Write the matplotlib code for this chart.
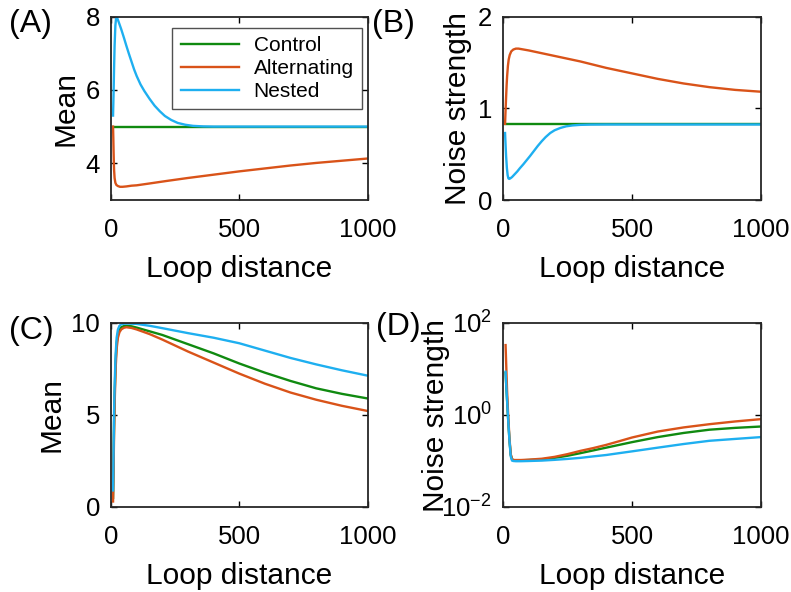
import matplotlib
matplotlib.use("Agg")
import matplotlib.pyplot as plt
from matplotlib.ticker import FixedLocator, FixedFormatter, NullLocator

plt.rcParams['font.family'] = ['Liberation Sans', 'DejaVu Sans']
plt.rcParams['mathtext.fontset'] = 'custom'
plt.rcParams['mathtext.rm'] = 'Liberation Sans'
plt.rcParams['mathtext.it'] = 'Liberation Sans'

series_names = ['Control', 'Alternating', 'Nested']
colors = {'Control': '#108a10', 'Alternating': '#d95319', 'Nested': '#1eaff0'}

# ---------------- Panel A: Mean ----------------
a_ctrl_x = [8, 1000]
a_ctrl_y = [5.0, 5.0]
a_alt_x = [8, 9, 10, 11, 12, 14, 17, 21, 27, 35, 45, 60, 80, 100, 150, 218, 300, 400, 500, 600, 700, 800, 900, 1000]
a_alt_y = [5.0, 4.7, 4.35, 4.05, 3.82, 3.6, 3.47, 3.41, 3.38, 3.36, 3.36, 3.37, 3.39, 3.4, 3.45, 3.52, 3.6, 3.69, 3.78, 3.86, 3.94, 4.01, 4.07, 4.13]
a_nest_x = [8, 10, 12, 14, 17, 20, 22, 30, 40, 50, 60, 70, 80, 90, 100, 115, 130, 150, 170, 190, 210, 235, 260, 290, 320, 360, 400, 1000]
a_nest_y = [5.3, 5.9, 6.6, 7.2, 7.75, 7.97, 8.0, 7.85, 7.65, 7.43, 7.2, 6.98, 6.77, 6.56, 6.38, 6.15, 5.97, 5.76, 5.57, 5.42, 5.29, 5.18, 5.1, 5.05, 5.02, 5.005, 5.0, 5.0]

# ---------------- Panel B: Noise strength ----------------
b_ctrl_x = [8, 1000]
b_ctrl_y = [0.823, 0.823]
b_alt_x = [8, 10, 12, 14, 16, 19, 22, 26, 32, 40, 50, 60, 80, 100, 150, 200, 250, 300, 400, 500, 600, 700, 800, 900, 1000]
b_alt_y = [0.83, 0.98, 1.12, 1.25, 1.35, 1.46, 1.53, 1.58, 1.62, 1.64, 1.65, 1.65, 1.64, 1.63, 1.6, 1.57, 1.54, 1.51, 1.44, 1.38, 1.32, 1.27, 1.23, 1.2, 1.18]
b_nest_x = [8, 10, 12, 15, 18, 21, 24, 28, 35, 45, 55, 65, 79, 92, 105, 120, 135, 150, 165, 183, 200, 222, 245, 270, 300, 340, 400, 1000]
b_nest_y = [0.73, 0.6, 0.48, 0.35, 0.27, 0.235, 0.23, 0.235, 0.25, 0.28, 0.31, 0.345, 0.39, 0.435, 0.48, 0.535, 0.59, 0.64, 0.685, 0.73, 0.76, 0.785, 0.803, 0.813, 0.819, 0.822, 0.823, 0.823]

# ---------------- Panel C: Mean ----------------
c_x = [8, 10, 12, 15, 18, 22, 27, 33, 40, 50, 60, 80, 100, 150, 200, 300, 400, 500, 600, 700, 800, 900, 1000]
c_ctrl_y = [0.5, 2.5, 4.6, 6.5, 7.9, 8.9, 9.4, 9.65, 9.77, 9.83, 9.85, 9.82, 9.75, 9.55, 9.35, 8.85, 8.35, 7.8, 7.3, 6.85, 6.45, 6.15, 5.9]
c_alt_y = [0.3, 2.0, 4.0, 6.0, 7.5, 8.6, 9.2, 9.5, 9.65, 9.74, 9.77, 9.73, 9.65, 9.4, 9.1, 8.45, 7.85, 7.25, 6.7, 6.22, 5.83, 5.5, 5.22]
c_nest_y = [0.9, 3.0, 5.2, 7.0, 8.3, 9.2, 9.65, 9.85, 9.93, 9.96, 9.97, 9.96, 9.95, 9.85, 9.72, 9.45, 9.2, 8.9, 8.5, 8.1, 7.75, 7.43, 7.14]

# ---------------- Panel D: Noise strength (log) ----------------
d_x = [10, 13, 16, 20, 25, 30, 35, 40, 50, 70, 100, 150, 200, 250, 300, 350, 400, 450, 500, 600, 700, 800, 900, 1000]
d_ctrl_y = [8.3, 3.98, 2.0, 0.794, 0.282, 0.135, 0.110, 0.105, 0.1035, 0.1035, 0.105, 0.108, 0.117, 0.130, 0.148, 0.170, 0.195, 0.224, 0.257, 0.331, 0.407, 0.479, 0.525, 0.562]
d_alt_y = [33.1, 10.0, 3.16, 1.0, 0.316, 0.141, 0.110, 0.105, 0.105, 0.105, 0.107, 0.112, 0.123, 0.141, 0.166, 0.191, 0.224, 0.269, 0.324, 0.437, 0.537, 0.631, 0.724, 0.813]
d_nest_y = [8.7, 3.98, 2.0, 0.794, 0.282, 0.126, 0.102, 0.100, 0.099, 0.099, 0.100, 0.102, 0.106, 0.111, 0.117, 0.126, 0.135, 0.148, 0.162, 0.195, 0.234, 0.275, 0.302, 0.331]

x_ticks = [0, 500, 1000]

W, H = 791, 592
fig = plt.figure(figsize=(W / 100, H / 100), dpi=100)

def box(l, t, r, b):
    return [l / W, (H - b) / H, (r - l) / W, (b - t) / H]

axA = fig.add_axes(box(111, 16.5, 367.5, 200))
axB = fig.add_axes(box(503, 16.5, 761, 200))
axC = fig.add_axes(box(111, 323, 367.5, 507))
axD = fig.add_axes(box(503, 323, 761, 507))

lw = 1.7
tick_fs = 18.5
label_fs = 21.5

def style(ax):
    ax.set_xlim(0, 1000)
    ax.xaxis.set_major_locator(FixedLocator(x_ticks))
    ax.tick_params(direction='in', top=True, right=True, length=4, width=1,
                   labelsize=tick_fs)
    ax.tick_params(axis='x', pad=13)
    ax.tick_params(axis='y', pad=8)
    ax.minorticks_off()
    for s in ax.spines.values():
        s.set_linewidth(1.3)
        s.set_color('#262626')
    ax.set_xlabel('Loop distance', fontsize=label_fs, labelpad=9)

# A
axA.plot(a_ctrl_x, a_ctrl_y, color=colors['Control'], lw=lw, label='Control')
axA.plot(a_alt_x, a_alt_y, color=colors['Alternating'], lw=lw, label='Alternating')
axA.plot(a_nest_x, a_nest_y, color=colors['Nested'], lw=lw, label='Nested')
style(axA)
axA.set_ylim(3, 8)
axA.set_yticks([4, 6, 8])
axA.set_ylabel('Mean', fontsize=label_fs, labelpad=4)
leg = axA.legend(loc='upper right', bbox_to_anchor=(0.979, 0.937), fontsize=15,
                 frameon=True, fancybox=False, edgecolor='#262626', handlelength=2.8,
                 handletextpad=0.7, labelspacing=0.18, borderpad=0.4, borderaxespad=0)
leg.get_frame().set_linewidth(1.0)

# B
axB.plot(b_ctrl_x, b_ctrl_y, color=colors['Control'], lw=lw)
axB.plot(b_alt_x, b_alt_y, color=colors['Alternating'], lw=lw)
axB.plot(b_nest_x, b_nest_y, color=colors['Nested'], lw=lw)
style(axB)
axB.set_ylim(0, 2)
axB.set_yticks([0, 1, 2])
axB.set_ylabel('Noise strength', fontsize=label_fs, labelpad=4)

# C
axC.plot(c_x, c_ctrl_y, color=colors['Control'], lw=lw)
axC.plot(c_x, c_alt_y, color=colors['Alternating'], lw=lw)
axC.plot(c_x, c_nest_y, color=colors['Nested'], lw=lw)
style(axC)
axC.set_ylim(0, 10)
axC.set_yticks([0, 5, 10])
axC.set_ylabel('Mean', fontsize=label_fs, labelpad=4)

# D
axD.plot(d_x, d_ctrl_y, color=colors['Control'], lw=lw)
axD.plot(d_x, d_alt_y, color=colors['Alternating'], lw=lw)
axD.plot(d_x, d_nest_y, color=colors['Nested'], lw=lw)
axD.set_yscale('log')
style(axD)
axD.set_ylim(1e-2, 1e2)
axD.yaxis.set_major_locator(FixedLocator([1e-2, 1e0, 1e2]))
axD.yaxis.set_major_formatter(FixedFormatter([r'$\mathregular{10^{-2}}$', r'$\mathregular{10^{0}}$', r'$\mathregular{10^{2}}$']))
axD.yaxis.set_minor_locator(NullLocator())
axD.set_ylabel('Noise strength', fontsize=label_fs)
axD.yaxis.set_label_coords(-0.205, 0.5)

# panel letters
panel_fs = 23
fig.text(9 / W, 1 - 24 / H, '(A)', fontsize=panel_fs, va='center', ha='left')
fig.text(372 / W, 1 - 24 / H, '(B)', fontsize=panel_fs, va='center', ha='left')
fig.text(9 / W, 1 - 331 / H, '(C)', fontsize=panel_fs, va='center', ha='left')
fig.text(376 / W, 1 - 327 / H, '(D)', fontsize=panel_fs, va='center', ha='left')

fig.savefig('out.png', dpi=100)
